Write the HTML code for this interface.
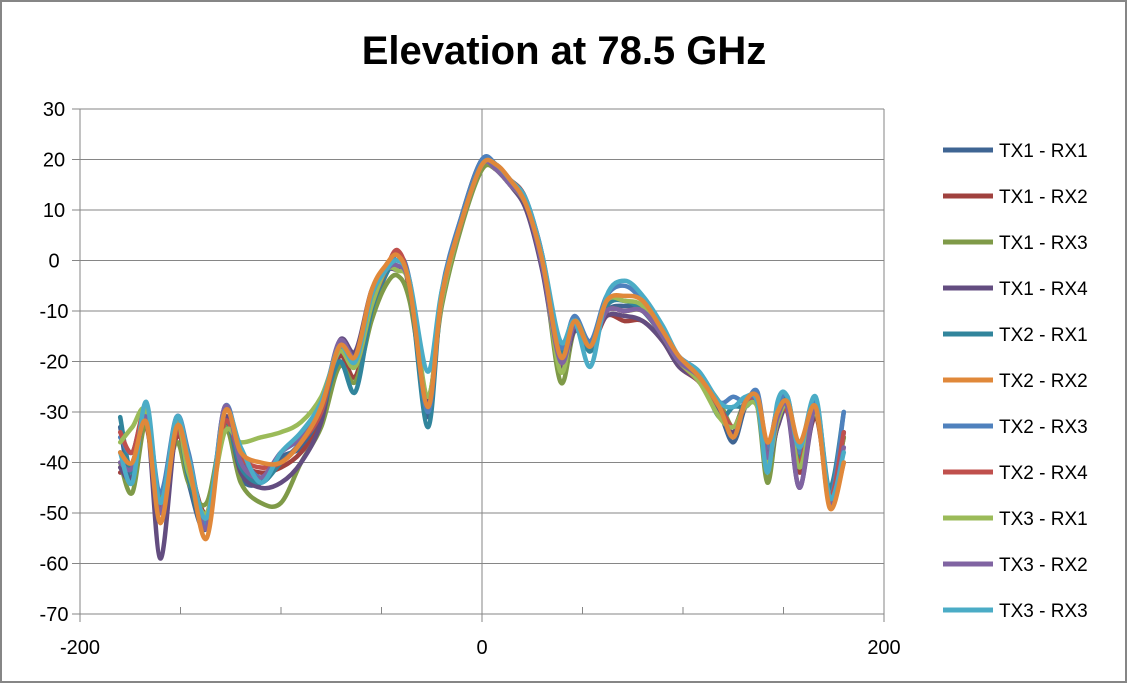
<!DOCTYPE html>
<html><head><meta charset="utf-8"><style>
body{margin:0;background:#fff}
svg{display:block;font-family:"Liberation Sans",sans-serif}
</style></head><body>
<svg id="chart" width="1127" height="683" viewBox="0 0 1127 683">
<rect x="1" y="1" width="1125" height="681" fill="#fff" stroke="#868686" stroke-width="2"/>
<text x="564" y="64" text-anchor="middle" font-size="40" font-weight="bold" fill="#000">Elevation at 78.5 GHz</text>
<g id="grid"></g>
<g id="series"></g>
<g id="axes"></g>
<g id="legend"></g>
</svg>
<script>
const X=[-180,-174,-167,-160,-152,-146,-137,-128,-120,-110,-100,-90,-80,-71,-63,-55,-48,-42,-36,-27,-20,-10,0,7,14,22,30,39,46,54,62,71,80,90,98,108,118,125,131,137,142,147,152,158,166,173,180];
const names=["TX1 - RX1","TX1 - RX2","TX1 - RX3","TX1 - RX4","TX2 - RX1","TX2 - RX2","TX2 - RX3","TX2 - RX4","TX3 - RX1","TX3 - RX2","TX3 - RX3"];
const colors=["#3f6593","#a0413e","#7f9a48","#634d80","#31859c","#e0883a","#4f81bd","#c0504d","#9bbb59","#8064a2","#4bacc6"];
const s1=[-33,-44,-30,-50,-33,-44,-53,-31,-43,-44,-39,-37,-31,-18,-21,-9,-2,1,-5,-31,-7,9,20,18,15,11,1,-21,-13,-17,-10,-9,-10,-15,-20,-24,-30,-36,-29,-27,-38,-31,-30,-38,-29,-48,-34];
const s2=[-42,-40,-33,-49,-35,-40,-50,-33,-40,-42,-41,-38,-32,-19,-23,-10,-3,2,-6,-28,-8,8,19,18,16,12,-1,-20,-12,-17,-11,-12,-12,-16,-21,-24,-29,-33,-28,-28,-40,-33,-29,-42,-31,-46,-35];
const s3=[-40,-46,-32,-47,-36,-44,-48,-33,-44,-48,-48,-40,-33,-21,-24,-12,-5,-3,-8,-27,-9,7,18,18,15,11,0,-24,-14,-17,-10,-10,-10,-14,-20,-23,-28,-33,-28,-29,-44,-32,-29,-40,-30,-46,-35];
const s4=[-41,-43,-31,-59,-33,-41,-52,-31,-42,-45,-44,-40,-32,-16,-18,-6,-2,-2,-4,-28,-8,8,19,19,15,10,-2,-21,-14,-16,-11,-11,-12,-16,-21,-24,-30,-34,-28,-28,-40,-33,-30,-45,-30,-48,-40];
const s5=[-31,-42,-29,-48,-32,-43,-52,-32,-41,-44,-40,-36,-30,-20,-26,-10,-3,0,-5,-33,-7,8,19,18,15,11,0,-18,-12,-18,-9,-8,-10,-15,-20,-23,-31,-29,-29,-28,-38,-29,-28,-39,-28,-45,-30];
const s6=[-38,-40,-32,-52,-33,-40,-55,-30,-38,-40,-40,-36,-29,-17,-19,-6,-1,1,-5,-29,-7,8,19,19,16,11,0,-19,-12,-17,-8,-7,-8,-14,-19,-23,-29,-35,-28,-27,-36,-30,-28,-36,-29,-49,-40];
const s7=[-35,-38,-30,-46,-31,-38,-52,-29,-38,-43,-38,-35,-28,-18,-20,-8,-2,1,-4,-30,-6,9,20,19,16,12,1,-17,-11,-16,-7,-5,-8,-14,-19,-22,-28,-27,-28,-26,-37,-29,-27,-38,-28,-47,-30];
const s8=[-34,-38,-30,-50,-34,-41,-51,-32,-39,-41,-40,-36,-30,-17,-21,-9,-2,2,-5,-29,-7,8,19,18,15,11,0,-20,-13,-17,-10,-10,-10,-15,-20,-24,-29,-33,-29,-27,-39,-31,-30,-40,-29,-47,-34];
const s9=[-36,-33,-30,-48,-32,-42,-50,-34,-36,-35,-34,-32,-27,-18,-21,-9,-2,-2,-5,-27,-8,8,19,18,15,11,0,-22,-12,-17,-8,-8,-9,-15,-20,-24,-31,-33,-29,-29,-40,-32,-29,-41,-30,-47,-40];
const s10=[-40,-41,-31,-50,-31,-40,-53,-29,-40,-43,-38,-35,-29,-16,-19,-7,-2,-1,-5,-29,-7,8,19,18,15,11,-1,-20,-13,-17,-10,-10,-10,-15,-20,-23,-29,-35,-28,-28,-39,-31,-29,-45,-29,-48,-37];
const s11=[-38,-44,-28,-48,-31,-39,-51,-30,-37,-44,-38,-34,-28,-17,-20,-7,-2,0,-4,-22,-6,8,19,19,16,12,1,-16,-12,-21,-7,-4,-7,-13,-19,-22,-28,-29,-27,-28,-42,-28,-27,-37,-27,-47,-38];
const yTicks=[30,20,10,0,-10,-20,-30,-40,-50,-60,-70];
const xTicks=[-200,0,200];
const xMinor=[-150,-100,-50,50,100,150];
const series=[s1,s2,s3,s4,s5,s6,s7,s8,s9,s10,s11];
const drawOrder=[0,1,2,3,4,6,7,8,9,10,5];

const L=80,R=884,T=109,B=614;
const sx=v=>L+(v+200)/400*(R-L);
const sy=v=>T+(30-v)/100*(B-T);
const NS="http://www.w3.org/2000/svg";
function mk(tag,attrs,parent){const e=document.createElementNS(NS,tag);for(const k in attrs)e.setAttribute(k,attrs[k]);parent.appendChild(e);return e;}
const grid=document.getElementById('grid'),axes=document.getElementById('axes'),sg=document.getElementById('series'),lg=document.getElementById('legend');
yTicks.forEach(v=>{
  const ln=mk('line',{x1:L-8,x2:R,y1:sy(v),y2:sy(v),stroke:'#868686','stroke-width':1},grid);
  
  
  const t=mk('text',{x:54,y:sy(v)+7,'text-anchor':'middle','font-size':20,fill:'#000'},axes);
  t.textContent=v;
  
  
});
[L,sx(0),R].forEach(px=>{
  const ln=mk('line',{x1:px,x2:px,y1:T,y2:B+8,stroke:'#868686','stroke-width':1},grid);
  
  
});
xMinor.forEach(v=>{
  const ln=mk('line',{x1:sx(v),x2:sx(v),y1:B-7,y2:B,stroke:'#868686','stroke-width':1},axes);
  
  
});
xTicks.forEach(v=>{
  const t=mk('text',{x:sx(v),y:654,'text-anchor':'middle','font-size':20,fill:'#000'},axes);
  t.textContent=v;
  
  
});
function pathFor(vals){
  const p=X.map((x,i)=>[sx(x),sy(vals[i])]);
  let d='M'+p[0][0].toFixed(1)+','+p[0][1].toFixed(1);
  for(let i=0;i<p.length-1;i++){
    const p0=p[i-1]||p[i],p1=p[i],p2=p[i+1],p3=p[i+2]||p2;
    const c1=[p1[0]+(p2[0]-p0[0])/6,p1[1]+(p2[1]-p0[1])/6];
    const c2=[p2[0]-(p3[0]-p1[0])/6,p2[1]-(p3[1]-p1[1])/6];
    d+=' C'+c1.map(n=>n.toFixed(1))+' '+c2.map(n=>n.toFixed(1))+' '+p2.map(n=>n.toFixed(1));
  }
  return d;
}
drawOrder.forEach(i=>{
  const pe=mk('path',{d:pathFor(series[i]),fill:'none',stroke:colors[i],'stroke-width':4.5,'stroke-linejoin':'round','stroke-linecap':'round'},sg);
  
  
});
names.forEach((n,i)=>{
  const y=150+i*46;
  const ln=mk('line',{x1:943,x2:993,y1:y,y2:y,stroke:colors[i],'stroke-width':5},lg);
  
  
  const t=mk('text',{x:999,y:y+7,'font-size':19,fill:'#000'},lg);
  t.textContent=n;
  
  
});
</script>
</body></html>
